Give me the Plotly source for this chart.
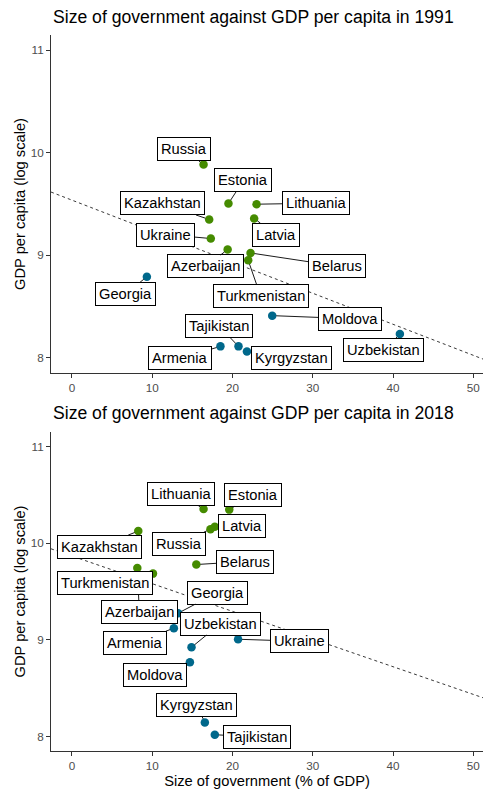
import numpy as np
import plotly.graph_objects as go

# ---------------- data ----------------
countries_1991 = ["Russia", "Estonia", "Lithuania", "Kazakhstan", "Latvia", "Ukraine",
                  "Azerbaijan", "Belarus", "Turkmenistan", "Georgia", "Moldova",
                  "Uzbekistan", "Armenia", "Tajikistan", "Kyrgyzstan"]
gov_1991 = [16.4, 19.5, 23.0, 17.1, 22.7, 17.3, 19.4, 22.25, 21.96, 9.34, 24.95,
            40.85, 18.5, 20.75, 21.8]
gdp_1991 = [9.886, 9.505, 9.498, 9.349, 9.358, 9.163, 9.056, 9.022, 8.95, 8.79, 8.41,
            8.23, 8.11, 8.11, 8.06]
group_1991 = ["high", "high", "high", "high", "high", "high", "high", "high", "high",
              "low", "low", "low", "low", "low", "low"]

countries_2018 = ["Lithuania", "Estonia", "Latvia", "Russia", "Kazakhstan", "Belarus",
                  "Azerbaijan", "Turkmenistan", "Georgia", "Armenia", "Uzbekistan",
                  "Ukraine", "Moldova", "Kyrgyzstan", "Tajikistan"]
gov_2018 = [16.4, 19.6, 17.8, 17.26, 8.27, 15.5, 8.15, 10.1, 13.24, 12.7, 14.9,
            20.7, 14.7, 16.56, 17.8]
gdp_2018 = [10.353, 10.347, 10.17, 10.145, 10.125, 9.779, 9.744, 9.685, 9.276, 9.12,
            8.923, 9.006, 8.768, 8.145, 8.018]
group_2018 = ["high", "high", "high", "high", "high", "high", "high", "high",
              "low", "low", "low", "low", "low", "low", "low"]

x_ticks = [0, 10, 20, 30, 40, 50]
y_ticks = [8, 9, 10, 11]

# ---------------- styles / label placement ----------------
colors = {"high": "#458B00", "low": "#00688B"}
X_RANGE = [-2.6, 51.2]
Y_RANGE = [7.85, 11.15]
FONT = "Liberation Sans, Arial, sans-serif"

# pixel offsets of each label centre from its point (ax, ay)
offsets_1991 = {
    "Russia": (-20, -15), "Estonia": (15, -23), "Lithuania": (59, -1),
    "Kazakhstan": (-47, -16), "Latvia": (22, 16), "Ukraine": (-45, -4),
    "Azerbaijan": (-22, 17), "Belarus": (86, 13), "Turkmenistan": (12.5, 36),
    "Georgia": (-21, 17), "Moldova": (78, 3), "Uzbekistan": (-16, 16),
    "Armenia": (-40, 12), "Tajikistan": (-19, -20), "Kyrgyzstan": (45, 7),
}
offsets_2018 = {
    "Lithuania": (-23, -15), "Estonia": (23.5, -14.6), "Latvia": (27.5, -1),
    "Russia": (-31.5, 14.6), "Kazakhstan": (-39, 15.5), "Belarus": (49, -3),
    "Azerbaijan": (2, 44), "Turkmenistan": (-48, 9.5), "Georgia": (39, -20.5),
    "Armenia": (-39, 14.5), "Uzbekistan": (29, -23.7), "Ukraine": (61.5, 2),
    "Moldova": (-35, 12.5), "Kyrgyzstan": (-8, -17), "Tajikistan": (42, 2),
}

fig = go.Figure()
annotations = []


def add_panel(names, xs, ys, groups, offsets, xa, ya):
    # regression line (lm fit), drawn across the full panel width
    slope, intercept = np.polyfit(xs, ys, 1)
    lx = np.array(X_RANGE)
    fig.add_trace(go.Scatter(x=lx, y=intercept + slope * lx, mode="lines",
                             line=dict(color="#222222", width=0.9, dash="3px,3px"),
                             xaxis=xa, yaxis=ya, hoverinfo="skip", showlegend=False))
    fig.add_trace(go.Scatter(x=xs, y=ys, mode="markers",
                             marker=dict(size=8.5, color=[colors[g] for g in groups]),
                             xaxis=xa, yaxis=ya, text=names, showlegend=False))
    xref = "x" if xa == "x" else "x2"
    yref = "y" if ya == "y" else "y2"
    order = sorted(range(len(names)), key=lambda i: 0 if names[i] == "Azerbaijan" else 1)
    for i in order:
        n = names[i]
        ax, ay = offsets[n]
        annotations.append(dict(
            x=xs[i], y=ys[i], xref=xref, yref=yref, text=n,
            showarrow=True, arrowhead=0, arrowwidth=0.9, arrowcolor="black",
            ax=ax, ay=ay, standoff=4,
            font=dict(family=FONT, size=14.7, color="black"),
            bgcolor="white", bordercolor="black", borderwidth=1, borderpad=3))


add_panel(countries_1991, gov_1991, gdp_1991, group_1991, offsets_1991, "x", "y")
add_panel(countries_2018, gov_2018, gdp_2018, group_2018, offsets_2018, "x2", "y2")

TOP, BOT = 35, 751
H = BOT - TOP


def py(pix):
    return (BOT - pix) / H


axis_common = dict(range=X_RANGE, tickvals=x_ticks, showline=True, linecolor="#333333",
                   linewidth=1, ticks="outside", ticklen=4, tickcolor="#333333",
                   tickfont=dict(family=FONT, size=11.7, color="#4D4D4D"),
                   showgrid=False, zeroline=False, fixedrange=True)
yaxis_common = dict(range=Y_RANGE, tickvals=y_ticks, showline=True, linecolor="#333333",
                    linewidth=1, ticks="outside", ticklen=4, tickcolor="#333333",
                    tickfont=dict(family=FONT, size=11.7, color="#4D4D4D"),
                    showgrid=False, zeroline=False, fixedrange=True,
                    title=dict(text="GDP per capita (log scale)", standoff=1,
                               font=dict(family=FONT, size=14.7, color="black")))

for title, ypix in [("Size of government against GDP per capita in 1991", 17),
                    ("Size of government against GDP per capita in 2018", 413)]:
    annotations.append(dict(text=title, x=0, xref="paper", xanchor="left",
                            y=py(ypix), yref="paper", yanchor="middle", showarrow=False,
                            font=dict(family=FONT, size=17.6, color="black")))

fig.update_layout(
    width=483, height=789,
    margin=dict(l=51, r=0, t=TOP, b=789 - BOT),
    paper_bgcolor="white", plot_bgcolor="white",
    xaxis=dict(axis_common, domain=[0, 1], anchor="y"),
    yaxis=dict(yaxis_common, domain=[py(373), 1], anchor="x"),
    xaxis2=dict(axis_common, domain=[0, 1], anchor="y2",
                title=dict(text="Size of government (% of GDP)", standoff=4,
                           font=dict(family=FONT, size=14.7, color="black"))),
    yaxis2=dict(yaxis_common, domain=[0, py(432)], anchor="x2"),
    annotations=annotations,
    showlegend=False,
)

fig.write_html("out.html")
